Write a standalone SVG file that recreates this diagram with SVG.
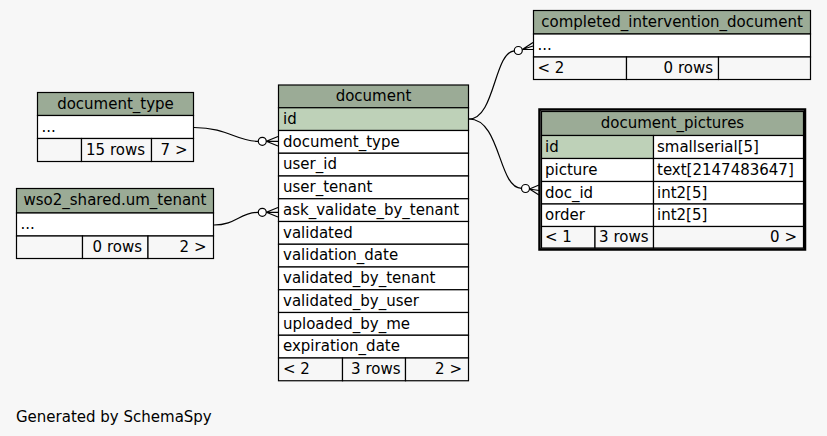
<svg xmlns="http://www.w3.org/2000/svg" width="827" height="436" viewBox="0 0 827 436">
<style>
text{font-family:"DejaVu Sans","Liberation Sans",sans-serif;font-size:15px;fill:#000}
.h{fill:#9bab96;stroke:#000;stroke-width:1.2}
.pk{fill:#bed1b8;stroke:#000;stroke-width:1.2}
.r{fill:#fff;stroke:#000;stroke-width:1.2}
.f{fill:#f7f7f7;stroke:#000;stroke-width:1.2}
.c{text-anchor:middle}
.e{text-anchor:end}
.edge{fill:none;stroke:#000;stroke-width:1.2}
.dot{fill:#fff;stroke:#000;stroke-width:1.2}
</style>
<rect width="827" height="436" fill="#f7f7f7"/>

<g id="connectors">
<path class="edge" d="M469,119 C495,119 494,52 514.3,50.8"/>
<circle class="dot" cx="518.3" cy="50.5" r="4"/>
<path class="edge" d="M522.3,49.5 L533,42.5 M522.3,49.5 L533,46 M522.3,49.5 L533,49.5"/>

<path class="edge" d="M469,119 C501,119 498,188 521.5,188.3"/>
<circle class="dot" cx="525.5" cy="188.5" r="4"/>
<path class="edge" d="M529.5,189 L539,185 M529.5,189 L539,190.5 M529.5,189 L539,195"/>

<path class="edge" d="M194,127.5 C228,127.5 236,141.3 258.3,141.3"/>
<circle class="dot" cx="262.3" cy="141.3" r="4"/>
<path class="edge" d="M266.3,141.3 L278,136.5 M266.3,141.3 L278,141.3 M266.3,141.3 L278,146"/>

<path class="edge" d="M214,225 C236,225 240,212.3 258.3,212.3"/>
<circle class="dot" cx="262.3" cy="212.3" r="4"/>
<path class="edge" d="M266.3,212.3 L278,207.5 M266.3,212.3 L278,212.3 M266.3,212.3 L278,217"/>
</g>

<g id="completed_intervention_document">
<rect class="h" x="533.5" y="10.5" width="277" height="23.5"/>
<text class="c" x="672" y="26.5">completed_intervention_document</text>
<rect class="r" x="533.5" y="34" width="277" height="23"/>
<text x="537.5" y="50">...</text>
<rect class="f" x="533.5" y="57" width="93" height="22.5"/>
<rect class="f" x="626.5" y="57" width="92" height="22.5"/>
<rect class="f" x="718.5" y="57" width="92" height="22.5"/>
<text x="537.5" y="73">&lt; 2</text>
<text class="e" x="713" y="73">0 rows</text>
</g>

<g id="document_type">
<rect class="h" x="37.5" y="92.5" width="156" height="23"/>
<text class="c" x="115.5" y="108.5">document_type</text>
<rect class="r" x="37.5" y="115.5" width="156" height="23"/>
<text x="41.5" y="131.5">...</text>
<rect class="f" x="37.5" y="138.5" width="44" height="23"/>
<rect class="f" x="81.5" y="138.5" width="70" height="23"/>
<rect class="f" x="151.5" y="138.5" width="42" height="23"/>
<text class="e" x="145" y="154.5">15 rows</text>
<text class="e" x="187.5" y="154.5">7 &gt;</text>
</g>

<g id="wso2_shared.um_tenant">
<rect class="h" x="16.5" y="188.5" width="197" height="24.5"/>
<text class="c" x="115" y="205">wso2_shared.um_tenant</text>
<rect class="r" x="16.5" y="213" width="197" height="23"/>
<text x="20.5" y="229">...</text>
<rect class="f" x="16.5" y="236" width="66" height="22.5"/>
<rect class="f" x="82.5" y="236" width="65.5" height="22.5"/>
<rect class="f" x="148" y="236" width="65.5" height="22.5"/>
<text class="e" x="142" y="252">0 rows</text>
<text class="e" x="206.5" y="252">2 &gt;</text>
</g>

<g id="document">
<rect class="h" x="278.5" y="85" width="190" height="22.75"/>
<text class="c" x="373.5" y="101">document</text>
<rect class="pk" x="278.5" y="107.75" width="190" height="22.75"/>
<text x="283" y="124">id</text>
<rect class="r" x="278.5" y="130.5" width="190" height="22.75"/>
<text x="283" y="146.5">document_type</text>
<rect class="r" x="278.5" y="153.25" width="190" height="22.75"/>
<text x="283" y="169.25">user_id</text>
<rect class="r" x="278.5" y="176" width="190" height="22.75"/>
<text x="283" y="192">user_tenant</text>
<rect class="r" x="278.5" y="198.75" width="190" height="22.75"/>
<text x="283" y="214.75">ask_validate_by_tenant</text>
<rect class="r" x="278.5" y="221.5" width="190" height="22.75"/>
<text x="283" y="237.5">validated</text>
<rect class="r" x="278.5" y="244.25" width="190" height="22.75"/>
<text x="283" y="260.25">validation_date</text>
<rect class="r" x="278.5" y="267" width="190" height="22.75"/>
<text x="283" y="283">validated_by_tenant</text>
<rect class="r" x="278.5" y="289.75" width="190" height="22.75"/>
<text x="283" y="305.75">validated_by_user</text>
<rect class="r" x="278.5" y="312.5" width="190" height="22.75"/>
<text x="283" y="328.5">uploaded_by_me</text>
<rect class="r" x="278.5" y="335.25" width="190" height="22.75"/>
<text x="283" y="351.25">expiration_date</text>
<rect class="f" x="278.5" y="358" width="64" height="22.75"/>
<rect class="f" x="342.5" y="358" width="63" height="22.75"/>
<rect class="f" x="405.5" y="358" width="63" height="22.75"/>
<text x="283" y="374">&lt; 2</text>
<text class="e" x="400.5" y="374">3 rows</text>
<text class="e" x="462" y="374">2 &gt;</text>
</g>

<g id="document_pictures">
<rect x="539.5" y="109.5" width="265.5" height="140" fill="#f7f7f7" stroke="#000" stroke-width="2.5"/>
<rect class="h" x="541.5" y="111.5" width="262" height="24"/>
<text class="c" x="672.5" y="127.5">document_pictures</text>
<rect class="pk" x="541.5" y="135.5" width="112" height="23"/>
<rect class="r" x="653.5" y="135.5" width="150" height="23"/>
<text x="545" y="151.5">id</text>
<text x="657" y="151.5">smallserial[5]</text>
<rect class="r" x="541.5" y="158.5" width="112" height="23"/>
<rect class="r" x="653.5" y="158.5" width="150" height="23"/>
<text x="545" y="174.5">picture</text>
<text x="657" y="174.5">text[2147483647]</text>
<rect class="r" x="541.5" y="181.5" width="112" height="22.5"/>
<rect class="r" x="653.5" y="181.5" width="150" height="22.5"/>
<text x="545" y="197.5">doc_id</text>
<text x="657" y="197.5">int2[5]</text>
<rect class="r" x="541.5" y="204" width="112" height="22.5"/>
<rect class="r" x="653.5" y="204" width="150" height="22.5"/>
<text x="545" y="220">order</text>
<text x="657" y="220">int2[5]</text>
<rect class="f" x="541.5" y="226.5" width="53.5" height="21.5"/>
<rect class="f" x="595" y="226.5" width="58.5" height="21.5"/>
<rect class="f" x="653.5" y="226.5" width="150" height="21.5"/>
<text x="545" y="242">&lt; 1</text>
<text class="e" x="648.5" y="242">3 rows</text>
<text class="e" x="797" y="242">0 &gt;</text>
</g>

<text x="16" y="421.5">Generated by SchemaSpy</text>
</svg>
